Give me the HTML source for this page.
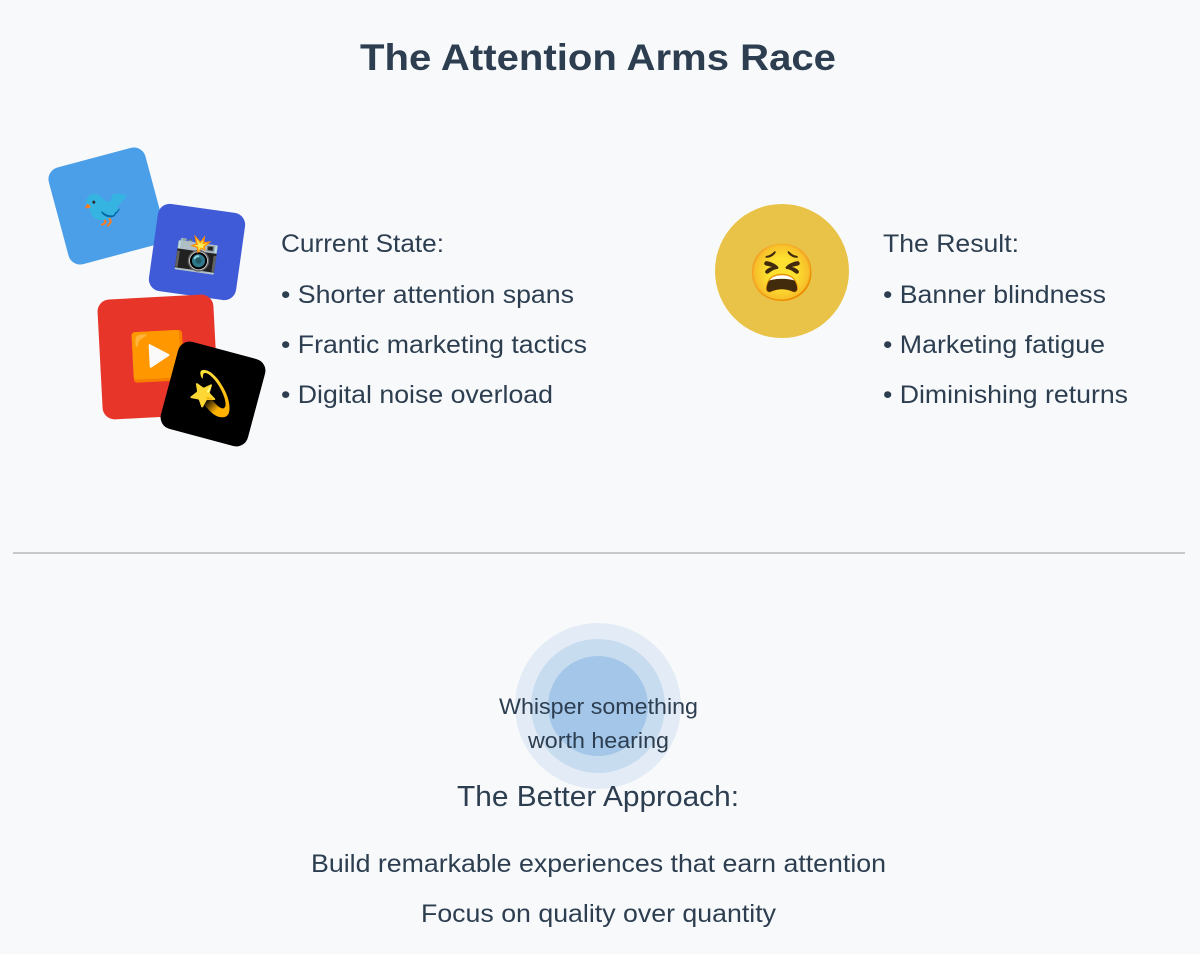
<!DOCTYPE html>
<html><head><meta charset="utf-8"><style>
html,body{margin:0;padding:0;background:#f8f9fb;}
svg{display:block;font-family:"Liberation Sans",Arial,sans-serif;}
</style></head><body>
<svg width="1200" height="954" viewBox="0 0 1200 954" xmlns="http://www.w3.org/2000/svg">
<rect width="1200" height="954" fill="#f8f9fb"/>
<text x="360" y="70" font-size="37" font-weight="bold" fill="#2c3e50" textLength="476" lengthAdjust="spacingAndGlyphs">The Attention Arms Race</text>

<g transform="translate(107,206) rotate(-15)"><rect x="-50" y="-50" width="100" height="100" rx="12" fill="#4a9fe8"/><text x="0" y="14" text-anchor="middle" font-size="40">🐦</text></g>
<g transform="translate(197,252) rotate(8)"><rect x="-44" y="-44" width="88" height="88" rx="12" fill="#3f5bd8"/><text x="0" y="13" text-anchor="middle" font-size="36">📸</text></g>
<g transform="translate(158,357) rotate(-3)"><rect x="-58" y="-60" width="116" height="120" rx="12" fill="#e8352a"/><text x="0" y="15" text-anchor="middle" font-size="46">▶️</text></g>
<g transform="translate(213,394) rotate(15)"><rect x="-45" y="-45" width="90" height="90" rx="12" fill="#000"/><text x="0" y="13" text-anchor="middle" font-size="38">💫</text></g>

<g font-size="25" fill="#2c3e50" lengthAdjust="spacingAndGlyphs">
<text x="281" y="252" textLength="163" lengthAdjust="spacingAndGlyphs">Current State:</text>
<text x="281" y="303" textLength="293" lengthAdjust="spacingAndGlyphs">• Shorter attention spans</text>
<text x="281" y="353" textLength="306" lengthAdjust="spacingAndGlyphs">• Frantic marketing tactics</text>
<text x="281" y="403" textLength="272" lengthAdjust="spacingAndGlyphs">• Digital noise overload</text>
<text x="883" y="252" textLength="136" lengthAdjust="spacingAndGlyphs">The Result:</text>
<text x="883" y="303" textLength="223" lengthAdjust="spacingAndGlyphs">• Banner blindness</text>
<text x="883" y="353" textLength="222" lengthAdjust="spacingAndGlyphs">• Marketing fatigue</text>
<text x="883" y="403" textLength="245" lengthAdjust="spacingAndGlyphs">• Diminishing returns</text>
</g>
<circle cx="782" cy="271" r="67" fill="#e9c347"/>
<text x="782" y="292" text-anchor="middle" font-size="56">😫</text>

<line x1="13" y1="553" x2="1185" y2="553" stroke="#c8c9cc" stroke-width="2"/>

<circle cx="598" cy="706" r="83" fill="#e3ecf6"/>
<circle cx="598" cy="706" r="67" fill="#c8dcf0"/>
<circle cx="598" cy="706" r="50" fill="#a4c6e8"/>
<g fill="#2c3e50">
<text x="499" y="714" font-size="22" textLength="199" lengthAdjust="spacingAndGlyphs">Whisper something</text>
<text x="528" y="748" font-size="22" textLength="141" lengthAdjust="spacingAndGlyphs">worth hearing</text>
<text x="457" y="806" font-size="29" textLength="282" lengthAdjust="spacingAndGlyphs">The Better Approach:</text>
<text x="311" y="872" font-size="25" textLength="575" lengthAdjust="spacingAndGlyphs">Build remarkable experiences that earn attention</text>
<text x="421" y="922" font-size="25" textLength="355" lengthAdjust="spacingAndGlyphs">Focus on quality over quantity</text>
</g>
</svg>
</body></html>
